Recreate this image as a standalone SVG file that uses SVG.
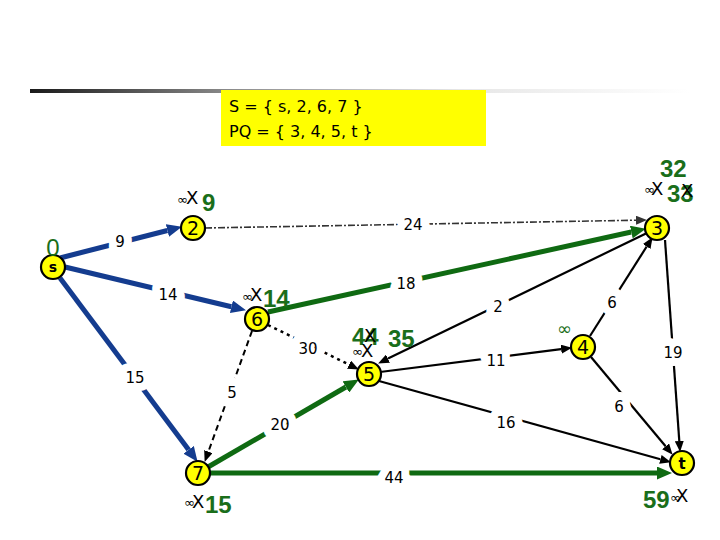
<svg xmlns="http://www.w3.org/2000/svg" width="720" height="540" viewBox="0 0 720 540">
<defs>
<linearGradient id="bar" x1="0" y1="0" x2="1" y2="0">
<stop offset="0" stop-color="#1a1a1a"/>
<stop offset="0.3" stop-color="#8a8a8a"/>
<stop offset="0.65" stop-color="#e6e6e6"/>
<stop offset="1" stop-color="#ffffff"/>
</linearGradient>
<marker id="aBlue" markerUnits="userSpaceOnUse" markerWidth="15" markerHeight="13" refX="0" refY="6.5" orient="auto"><path d="M0,0 L15,6.5 L0,13 z" fill="#143c8f"/></marker>
<marker id="aGreen" markerUnits="userSpaceOnUse" markerWidth="15" markerHeight="13" refX="0" refY="6.5" orient="auto"><path d="M0,0 L15,6.5 L0,13 z" fill="#0f6a12"/></marker>
<marker id="aBlack" markerUnits="userSpaceOnUse" markerWidth="11" markerHeight="9" refX="0" refY="4.5" orient="auto"><path d="M0,0 L11,4.5 L0,9 z" fill="#000"/></marker>
<marker id="aGray" markerUnits="userSpaceOnUse" markerWidth="11" markerHeight="9" refX="0" refY="4.5" orient="auto"><path d="M0,0 L11,4.5 L0,9 z" fill="#333"/></marker>
</defs>
<style>
.blue{stroke:#143c8f;stroke-width:5;fill:none;marker-end:url(#aBlue)}
.green{stroke:#0f6a12;stroke-width:5;fill:none;marker-end:url(#aGreen)}
.thin{stroke:#000;stroke-width:2.2;fill:none;marker-end:url(#aBlack)}
.dashdot{stroke:#333;stroke-width:1.6;fill:none;stroke-dasharray:7 2 2 2;marker-end:url(#aGray)}
.dotted{stroke:#000;stroke-width:2.5;fill:none;stroke-dasharray:3 4;marker-end:url(#aBlack)}
.dashed{stroke:#000;stroke-width:2;fill:none;stroke-dasharray:6 4;marker-end:url(#aBlack)}
.el{font-family:"DejaVu Sans",sans-serif;font-size:15px;fill:#000;text-anchor:middle;stroke:#fff;stroke-width:16;paint-order:stroke;stroke-linejoin:round}
.node circle{fill:#ffff00;stroke:#000;stroke-width:2.2}
.node text.id{font-family:"DejaVu Sans",sans-serif;font-size:19px;fill:#000;text-anchor:middle}
.g{font-family:"Liberation Sans",Arial,sans-serif;font-weight:bold;font-size:24px;fill:#1a6e1a}
.inf{font-family:"DejaVu Sans",sans-serif;font-size:13px;fill:#000}
.x{font-family:"DejaVu Sans",sans-serif;font-size:18px;fill:#000}
.box{font-family:"DejaVu Sans",sans-serif;font-size:16px;fill:#000}
</style>
<rect x="30" y="89" width="660" height="4" fill="url(#bar)"/>
<g id="info">
<rect x="221" y="90" width="265" height="56" fill="#ffff00"/>
<text class="box" x="229" y="112">S = { s, 2, 6, 7 }</text>
<text class="box" x="229" y="137">PQ = { 3, 4, 5, t }</text>
</g>
<g id="connectors">
<line class="blue" x1="60" y1="258" x2="167.4" y2="230.5"/>
<line class="blue" x1="65" y1="267" x2="231.4" y2="306.8"/>
<line class="blue" x1="60" y1="278" x2="188.6" y2="449.8"/>
<line class="dashdot" x1="205" y1="228" x2="636" y2="220.2"/>
<line class="green" x1="268" y1="312" x2="631.3" y2="232"/>
<line class="dotted" x1="268" y1="325" x2="349" y2="364.6"/>
<line class="dashed" x1="252" y1="331" x2="208.4" y2="451.6"/>
<line class="green" x1="208" y1="467" x2="345.9" y2="387"/>
<line class="green" x1="210" y1="473" x2="657" y2="473"/>
<line class="thin" x1="647" y1="233" x2="388" y2="358.6"/>
<line class="thin" x1="380" y1="372" x2="561.1" y2="349.2"/>
<line class="thin" x1="590" y1="336" x2="646.7" y2="246.5"/>
<line class="thin" x1="591" y1="357" x2="665.6" y2="446.3"/>
<line class="thin" x1="665" y1="240" x2="679.3" y2="441"/>
<line class="thin" x1="379" y1="381" x2="660.4" y2="459.3"/>
<text class="el" x="120" y="247">9</text>
<text class="el" x="168" y="300">14</text>
<text class="el" x="135" y="383">15</text>
<text class="el" x="413" y="230">24</text>
<text class="el" x="406" y="289">18</text>
<text class="el" x="308" y="354">30</text>
<text class="el" x="232" y="398">5</text>
<text class="el" x="280" y="430">20</text>
<text class="el" x="394" y="483">44</text>
<text class="el" x="498" y="312">2</text>
<text class="el" x="496" y="366">11</text>
<text class="el" x="506" y="428">16</text>
<text class="el" x="612" y="308">6</text>
<text class="el" x="619" y="412">6</text>
<text class="el" x="673" y="358">19</text>
</g>
<g id="node-s" class="node">
<circle cx="53" cy="267" r="12"/>
<text class="id" x="53" y="272" style="font-weight:bold;font-size:14px">s</text>
<text class="g" x="53" y="256" text-anchor="middle" style="font-weight:normal">0</text>
</g>
<g id="node-2" class="node">
<circle cx="193" cy="228" r="12"/>
<text class="id" x="193" y="235">2</text>
<text class="inf" x="177" y="204">∞</text>
<text class="x" x="186" y="204">X</text>
<text class="g" x="202" y="211">9</text>
</g>
<g id="node-3" class="node">
<circle cx="657" cy="228" r="12"/>
<text class="id" x="657" y="235">3</text>
<text class="g" x="660" y="177">32</text>
<text class="inf" x="644" y="194">∞</text>
<text class="x" x="651" y="195">X</text>
<text class="g" x="667" y="202">33</text>
<text class="x" x="681" y="197">X</text>
</g>
<g id="node-6" class="node">
<circle cx="257" cy="319" r="12"/>
<text class="id" x="257" y="326">6</text>
<text class="inf" x="242" y="301">∞</text>
<text class="x" x="250" y="301">X</text>
<text class="g" x="263" y="307">14</text>
</g>
<g id="node-5" class="node">
<circle cx="369" cy="374" r="12"/>
<text class="id" x="369" y="381">5</text>
<text class="g" x="352" y="345">44</text>
<text class="x" x="364" y="342">X</text>
<text class="inf" x="352" y="356">∞</text>
<text class="x" x="361" y="357">X</text>
<text class="g" x="388" y="347">35</text>
</g>
<g id="node-4" class="node">
<circle cx="583" cy="347" r="12"/>
<text class="id" x="583" y="354">4</text>
<text x="557" y="335" style="font-family:'DejaVu Sans',sans-serif;font-size:18px;fill:#1a6e1a">∞</text>
</g>
<g id="node-7" class="node">
<circle cx="198" cy="473" r="12"/>
<text class="id" x="198" y="480">7</text>
<text class="inf" x="184" y="507">∞</text>
<text class="x" x="192" y="508">X</text>
<text class="g" x="205" y="513">15</text>
</g>
<g id="node-t" class="node">
<circle cx="682" cy="463" r="12"/>
<text class="id" x="682" y="469" style="font-weight:bold;font-size:15px">t</text>
<text class="g" x="643" y="508">59</text>
<text class="inf" x="670" y="502">∞</text>
<text class="x" x="676" y="502">X</text>
</g>
</svg>
